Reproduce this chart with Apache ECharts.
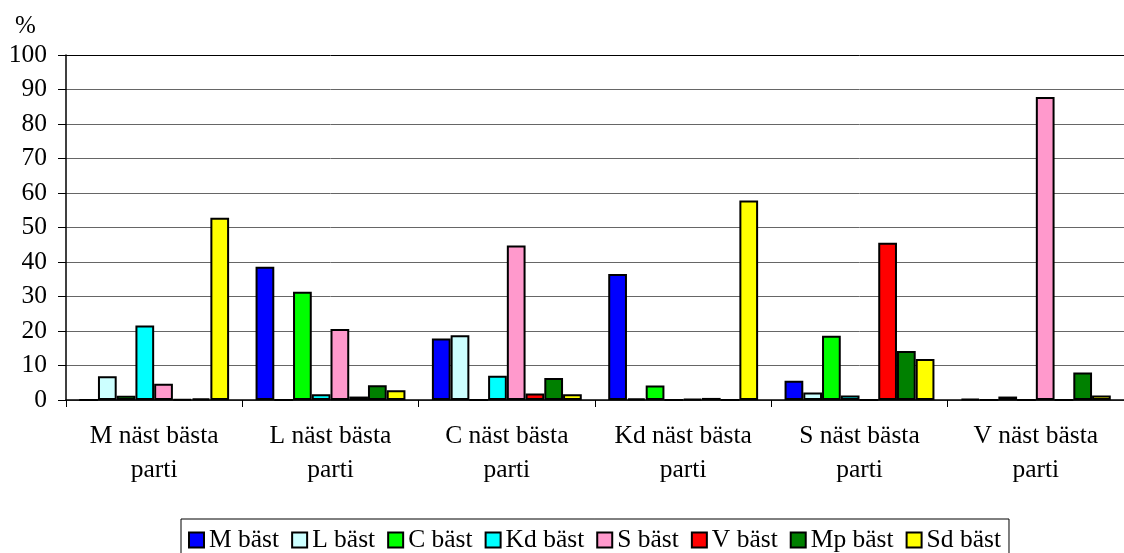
<!DOCTYPE html>
<html>
<head>
<meta charset="utf-8">
<script src="https://cdn.jsdelivr.net/npm/echarts@6/dist/echarts.min.js"></script>
<style>
  html, body { margin: 0; padding: 0; background: #fff; }
  #main { width: 1124px; height: 553px; }
</style>
</head>
<body>
<div id="main"></div>
<script>
// Data
let categories = ['M näst bästa\nparti', 'L näst bästa\nparti', 'C näst bästa\nparti',
    'Kd näst bästa\nparti', 'S näst bästa\nparti', 'V näst bästa\nparti'];
let seriesNames = ['M bäst', 'L bäst', 'C bäst', 'Kd bäst', 'S bäst', 'V bäst', 'Mp bäst', 'Sd bäst'];
let mBast = [0, 38.6, 17.8, 36.5, 5.6, 0.3];
let lBast = [6.9, 0, 18.8, 0.5, 2.2, 0];
let cBast = [1.2, 31.4, 0, 4.2, 18.6, 1.0];
let kdBast = [21.6, 1.7, 7.0, 0, 1.3, 0];
let sBast = [4.7, 20.6, 44.8, 0.3, 0, 87.8];
let vBast = [0.2, 1.0, 1.9, 0.6, 45.6, 0];
let mpBast = [0.5, 4.3, 6.4, 0, 14.2, 8.0];
let sdBast = [52.8, 2.8, 1.7, 57.8, 11.9, 1.3];
let colors = ['#0000ff', '#ccffff', '#00ff00', '#00ffff', '#ff99cc', '#ff0000', '#008000', '#ffff00'];

let font = 'Liberation Serif';
let values = [mBast, lBast, cBast, kdBast, sBast, vBast, mpBast, sdBast];

// grid lines: dark grey, top one (100) black
let gridColors = [];
for (let i = 0; i < 10; i++) gridColors.push('#666');
gridColors.push('#000');

let options = {
    animation: false,
    textStyle: { fontFamily: font, color: '#000' },
    title: {
        text: '%', left: 10, top: 9,
        textStyle: { fontFamily: font, fontSize: 25, fontWeight: 'normal', color: '#000' }
    },
    // plot area runs slightly past the right edge of the picture
    grid: { left: 66, width: 1063, top: 55, bottom: 153, containLabel: false },
    legend: {
        data: seriesNames,
        left: 181, top: 519,
        orient: 'horizontal',
        icon: 'rect',
        itemWidth: 15, itemHeight: 15, itemGap: 12,
        padding: [8, 8, 10, 7],
        borderColor: '#000', borderWidth: 1,
        itemStyle: { borderColor: '#000', borderWidth: 2 },
        textStyle: { fontFamily: font, fontSize: 25.5, color: '#000' }
    },
    xAxis: {
        type: 'category',
        data: categories,
        axisLine: { lineStyle: { color: '#000', width: 1.5 } },
        axisTick: { show: true, length: 7, lineStyle: { color: '#000' } },
        axisLabel: { fontFamily: font, fontSize: 25.5, color: '#000', lineHeight: 34, margin: 19, interval: 0 }
    },
    yAxis: {
        type: 'value',
        min: 0, max: 100, interval: 10,
        axisLine: { show: true, lineStyle: { color: '#000', width: 1.5 } },
        axisTick: { show: true, length: 8, lineStyle: { color: '#000' } },
        axisLabel: { fontFamily: font, fontSize: 25.5, color: '#000', margin: 19 },
        splitLine: { show: true, lineStyle: { color: gridColors, width: 1 } }
    },
    series: seriesNames.map((name, i) => ({
        name: name,
        type: 'bar',
        data: values[i],
        barGap: '0%',
        barCategoryGap: '15%',
        itemStyle: { color: colors[i], borderColor: '#000', borderWidth: 2 }
    }))
};

let myChart = echarts.init(document.getElementById('main'));
myChart.setOption(options);
</script>
</body>
</html>
